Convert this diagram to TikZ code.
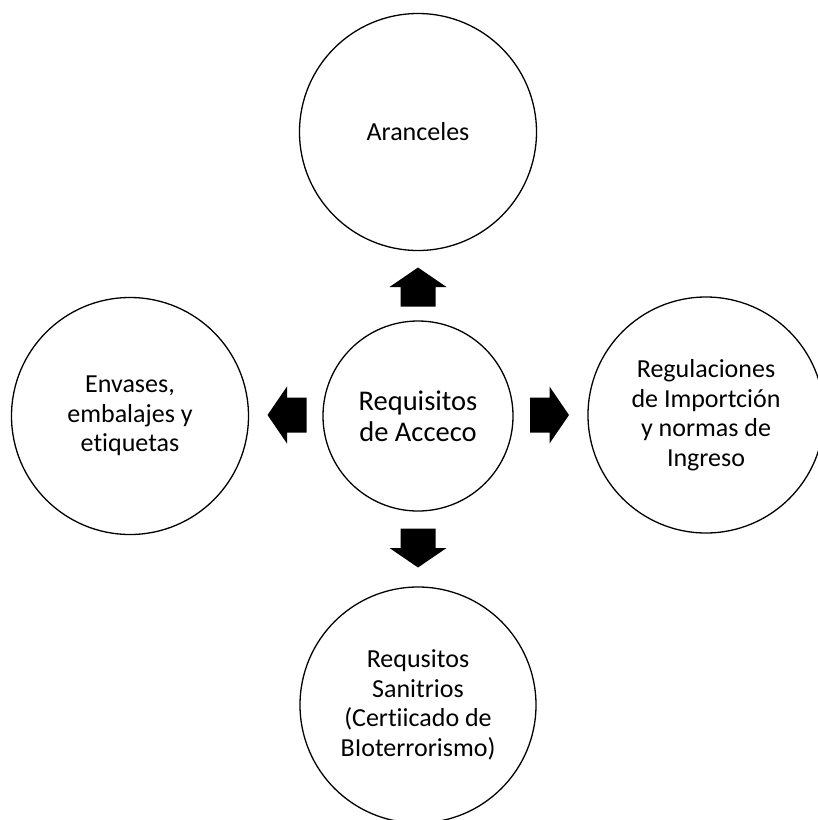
\documentclass[tikz,border=0pt]{standalone}
\usepackage{fontspec}
\setmainfont{Carlito}[RawFeature={-liga}]
\begin{document}
\begin{tikzpicture}[x=1pt,y=-1pt,
  bubble/.style={circle,draw=black,line width=1.3pt,fill=white,inner sep=0pt,
    align=center,font=\fontsize{26}{29.5}\selectfont},
  hub/.style={bubble,font=\fontsize{28.5}{31}\selectfont},
  blockarrow/.pic={\fill[black] (-19.5,-17.5) -- (0,-17.5) -- (0,-28.5) -- (19.5,0)
    -- (0,28.5) -- (0,17.5) -- (-19.5,17.5) -- cycle;}]
  % page frame
  \useasboundingbox (0,0) rectangle (818,820);
  \clip (0,0) rectangle (818,820);

  % central topic and the four requirement groups
  \node[hub,minimum size=190pt] (hub) at (418,416) {Requisitos\\de Acceco};
  \node[bubble,minimum size=237pt] (tariffs) at (418,132) {Aranceles};
  \node[bubble,minimum size=237pt] (packing) at (130,416) {Envases,\\embalajes y\\etiquetas};
  \node[bubble,minimum size=236pt] (rules) at (706,415) {Regulaciones\\de Importción\\y normas de\\Ingreso};
  \node[bubble,minimum size=236pt] (health) at (418,705) {Requsitos\\Sanitrios\\(Certiicado de\\BIoterrorismo)};

  % block arrows pointing outward from the hub
  \pic[rotate=90] at (418,287) {blockarrow};
  \pic[rotate=-90] at (418,548) {blockarrow};
  \pic[rotate=180] at (287,415) {blockarrow};
  \pic at (549.5,415) {blockarrow};
\end{tikzpicture}
\end{document}
